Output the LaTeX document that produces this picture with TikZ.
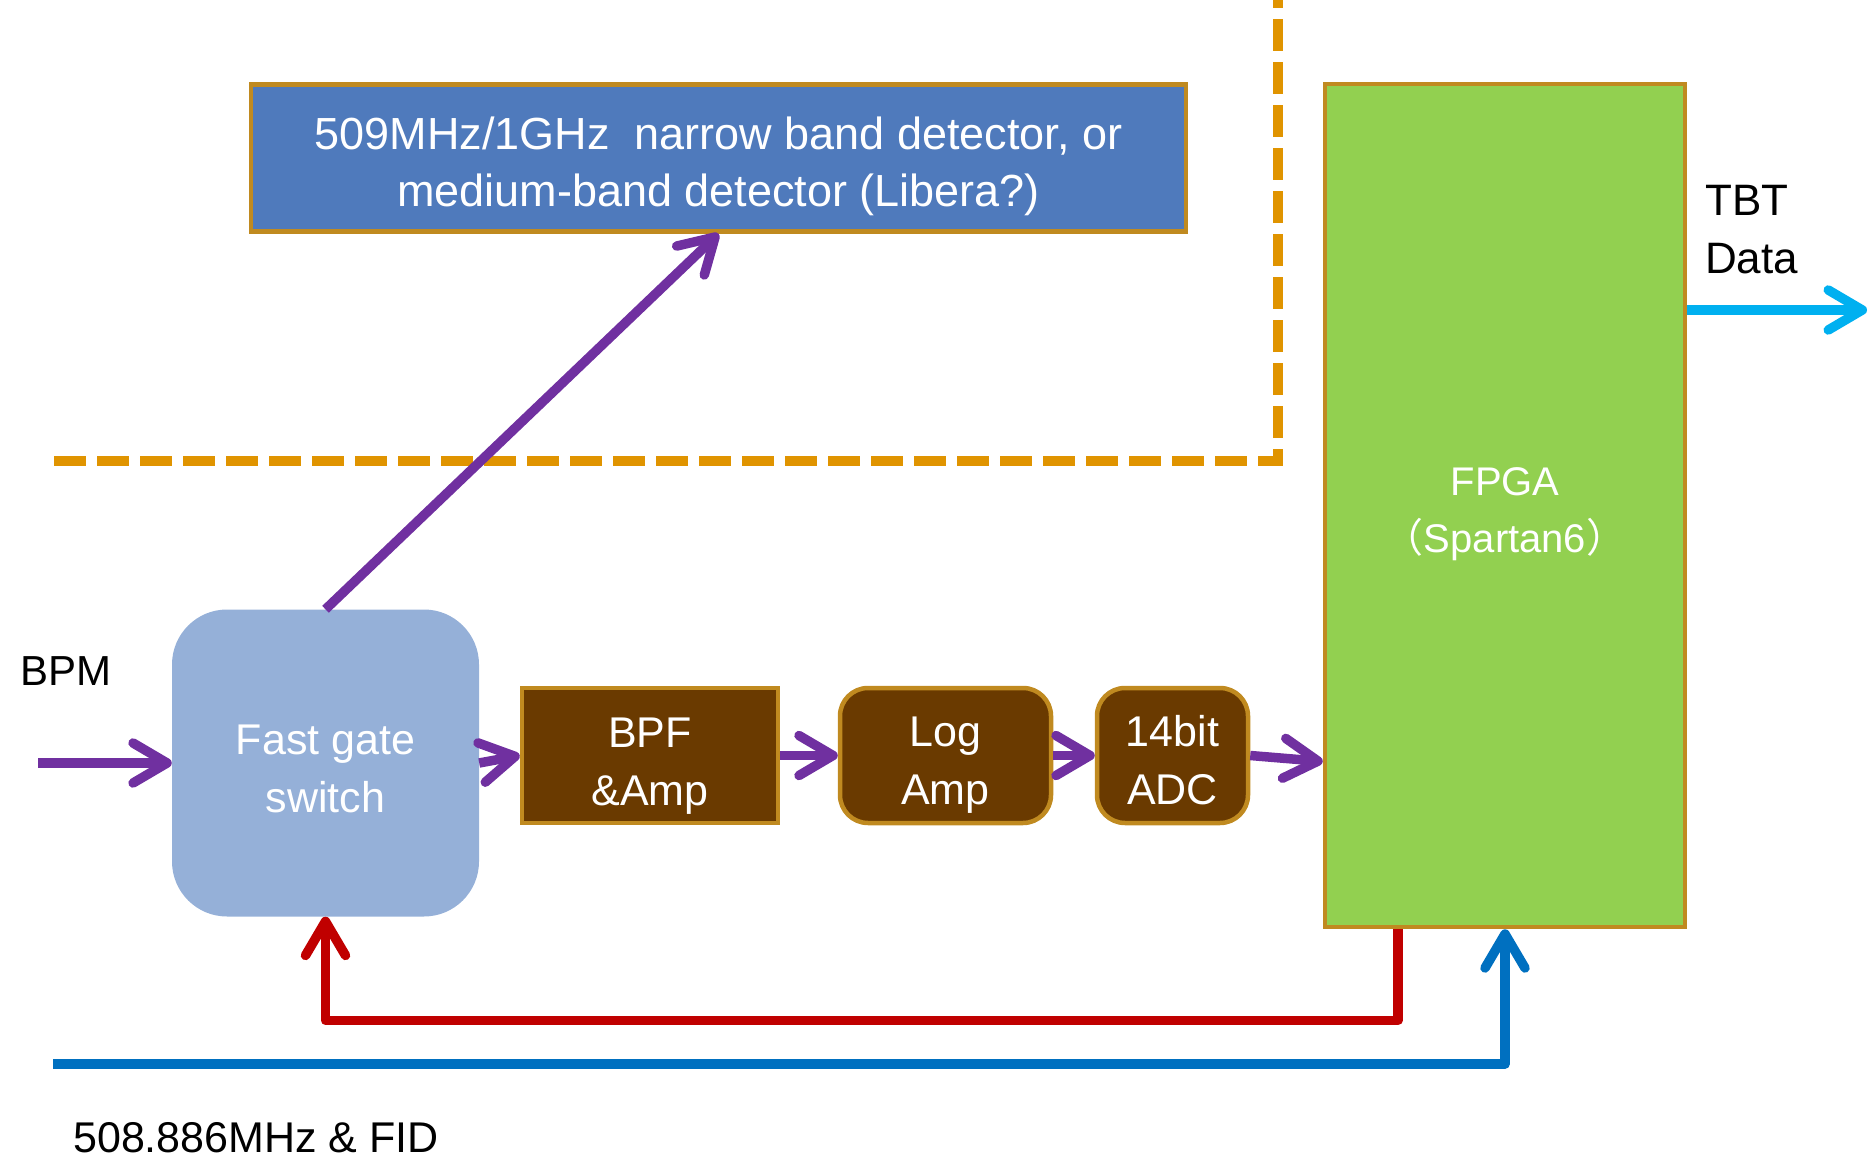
\documentclass[tikz,border=0pt]{standalone}
\usepackage{fontspec}
\setmainfont{Liberation Sans}
\newfontfamily\jpfont{Noto Sans CJK JP}
\usetikzlibrary{arrows.meta,calc}
\definecolor{bord}{RGB}{192,138,32}
\definecolor{detblue}{RGB}{79,122,188}
\definecolor{fgblue}{RGB}{149,176,216}
\definecolor{brownc}{RGB}{106,58,0}
\definecolor{fpgagreen}{RGB}{146,208,80}
\definecolor{purp}{RGB}{112,48,160}
\definecolor{cyanc}{RGB}{0,176,240}
\definecolor{redc}{RGB}{192,0,0}
\definecolor{bluec}{RGB}{0,112,192}
\definecolor{dashor}{RGB}{224,148,0}
% two centred lines, first line pushed down by a top strut
\newcommand\twolines[3]{\begin{tabular}{@{}c@{}}\rule{0pt}{#1}#2\\#3\end{tabular}}
\tikzset{
  boxtext/.style={text=white, inner sep=0pt, font=\fontsize{43pt}{58pt}\selectfont},
  bordbox/.style={boxtext, draw=bord, line width=4.5pt},
  brownbox/.style={bordbox, fill=brownc},
  conn/.style={line width=9.5pt, line join=round, -{Straight Barb[length=34pt,width=40pt,round]}},
  plain/.style={inner sep=0pt, font=\fontsize{43pt}{58pt}\selectfont},
}
\begin{document}
\begin{tikzpicture}[x=1pt,y=-1pt]
\useasboundingbox (0,0) rectangle (1872,1158);
% dashed boundary
\draw[dashor, line width=10pt, dash pattern=on 32pt off 11pt] (54,461) -- (1278,461) -- (1278,0);
% boxes
\node[bordbox, fill=detblue, minimum width=935pt, minimum height=147pt, font=\fontsize{45pt}{57pt}\selectfont] (det) at (718.5,158)
  {\twolines{57.9pt}{509MHz/1GHz\ \ narrow band detector, or}{medium-band detector (Libera?)}};
\node[bordbox, fill=fpgagreen, minimum width=360pt, minimum height=843pt, font=\fontsize{40pt}{57pt}\selectfont] (fpga) at (1505,505.5)
  {\twolines{53.1pt}{FPGA}{{\jpfont （}Spartan6{\jpfont ）}}};
\node[boxtext, fill=fgblue, rounded corners=55pt, minimum width=307pt, minimum height=307pt] (fg) at (325.5,763)
  {\twolines{57.4pt}{Fast gate}{switch}};
\node[brownbox, minimum width=256pt, minimum height=135pt] (bpf) at (650,755.5) {\twolines{58.6pt}{BPF}{\&Amp}};
\node[brownbox, rounded corners=28pt, minimum width=211pt, minimum height=135pt] (log) at (945.5,755.5) {\twolines{58pt}{Log}{Amp}};
\node[brownbox, rounded corners=28pt, minimum width=151pt, minimum height=135pt] (adc) at (1172.5,755.5) {\twolines{58pt}{14bit}{ADC}};
% labels
\node[plain, font=\fontsize{42pt}{58pt}\selectfont, anchor=base west] (bpm) at (20,685) {BPM};
\node[plain, font=\fontsize{44pt}{58pt}\selectfont, anchor=north west, align=left] (tbt) at (1705,185) {TBT\\Data};
\node[plain, anchor=base west] (fid) at (73,1152) {508.886MHz \& FID};
% coordinates
\coordinate (bpmin) at (38,763);
\coordinate (tbtend) at (1867,310);
\coordinate (clk) at (53,1064);
% connectors
\draw[conn, purp] (bpmin) -- (fg.west);
\draw[conn, purp] (fg.east) -- (bpf.west);
\draw[conn, purp] (bpf.east) -- (log.west);
\draw[conn, purp] (log.east) -- (adc.west);
\draw[conn, purp] (adc.east) -- ([yshift=-6pt]adc.east -| fpga.west);
\draw[conn, purp] (fg.north) -- (det.south);
\draw[conn, cyanc] (fpga.east |- tbtend) -- (tbtend);
\draw[conn, redc] ([xshift=-107pt]fpga.south) -- ++(0,91) -| (fg.south);
\draw[conn, bluec] (clk) -| (fpga.south);
\end{tikzpicture}
\end{document}
